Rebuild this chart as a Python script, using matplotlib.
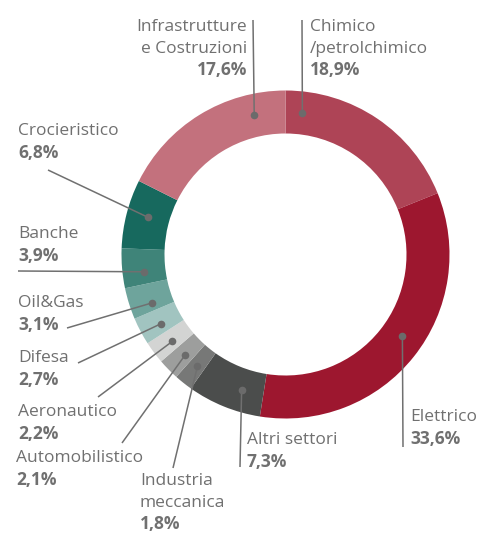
import matplotlib
matplotlib.use("Agg")
import matplotlib.pyplot as plt
import numpy as np

# ---- data (clockwise from 12 o'clock) ----
sectors = ["Chimico\n/petrolchimico", "Elettrico", "Altri settori",
           "Industria\nmeccanica", "Automobilistico", "Aeronautico",
           "Difesa", "Oil&Gas", "Banche", "Crocieristico",
           "Infrastrutture\ne Costruzioni"]
shares = [18.9, 33.6, 7.3, 1.8, 2.1, 2.2, 2.7, 3.1, 3.9, 6.8, 17.6]
colors = ["#AE4456", "#9D172F", "#4B4D4C", "#777877", "#9D9E9D", "#D3D4D3",
          "#A1C4C0", "#6EA49C", "#3F8479", "#17695E", "#C3717D"]

# ---- layout (pixel coordinates, y from top) ----
W, H = 481, 534
CX, CY = 285.5, 254.5
R_OUT, R_IN = 164, 121
dot_frac = [0.10, 0.47, 0.34, 0.45, 0.42, 0.40, 0.38, 0.28, 0.35, 0.53, 0.80]
line_end = [(302, 20), (403, 447), (240, 467), (173, 468), (122, 443),
            (98, 397), (78, 363), (67, 328), (18, 271), (48, 170), (253, 20)]
text_pos = [(310, 27, "left"), (410, 417, "left"), (247, 440, "left"),
            (140, 481, "left"), (16, 458, "left"), (18, 412, "left"),
            (18, 358, "left"), (18, 303, "left"), (18, 234, "left"),
            (18, 131, "left"), (247, 27, "right")]
STEP = 21.6
TXT = "#707070"

plt.rcParams["font.family"] = ["Open Sans", "DejaVu Sans"]

fig = plt.figure(figsize=(W / 100, H / 100), dpi=100)
ax = fig.add_axes([0, 0, 1, 1])

def py(y):
    return H - y

ax.pie(shares, colors=colors, startangle=90, counterclock=False,
       radius=R_OUT, center=(CX, py(CY)),
       wedgeprops=dict(width=R_OUT - R_IN, edgecolor="none", linewidth=0))
ax.set_xlim(0, W)
ax.set_ylim(0, H)
ax.set_aspect("equal")
ax.axis("off")

cum = np.concatenate([[0], np.cumsum(shares)]) / sum(shares) * 360.0
r_mid = (R_OUT + R_IN) / 2
for i, name in enumerate(sectors):
    a0, a1 = cum[i], cum[i + 1]
    ang = np.deg2rad(a0 + dot_frac[i] * (a1 - a0))
    dx = CX + r_mid * np.sin(ang)
    dy = py(CY) + r_mid * np.cos(ang)
    ex, ey = line_end[i]
    ax.plot([dx, ex], [dy, py(ey)], color=TXT, lw=1.1, solid_capstyle="butt", zorder=3)
    ax.plot([dx], [dy], "o", color="#6B6B6B", ms=5.5, mec="none", zorder=4)
    tx, ty, ha = text_pos[i]
    lines = name.split("\n")
    for j, ln in enumerate(lines):
        ax.text(tx, py(ty + j * STEP), ln, ha=ha, va="center",
                fontsize=12.5, color=TXT)
    pct = f"{shares[i]:.1f}".replace(".", ",") + "%"
    ax.text(tx, py(ty + len(lines) * STEP), pct, ha=ha, va="center",
            fontsize=12.5, color=TXT, fontweight="bold")

fig.savefig("out.png", dpi=100)
